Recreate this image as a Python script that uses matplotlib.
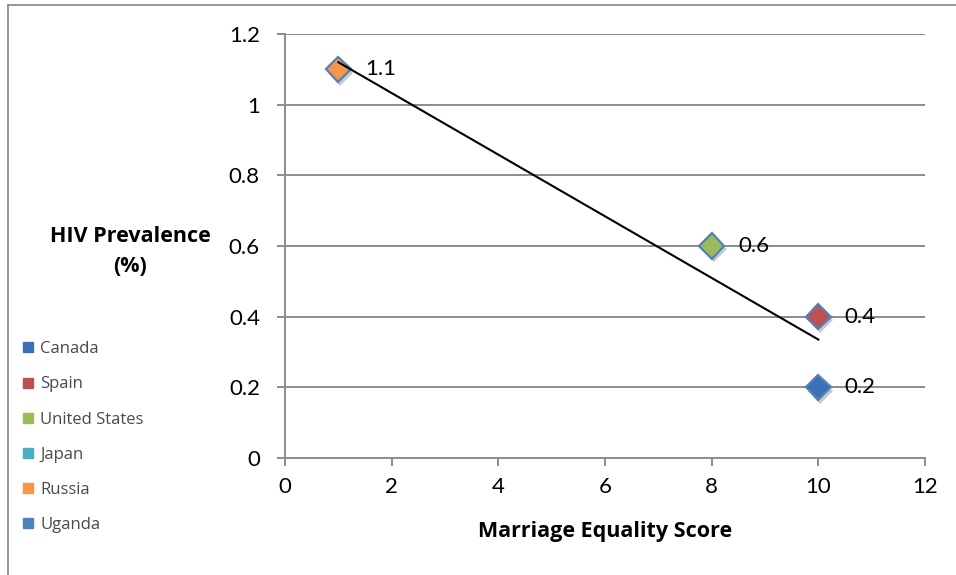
"""
HIV prevalence vs marriage equality score scatter with linear trendline.
"""
import numpy as np
import matplotlib
matplotlib.use("Agg")
import matplotlib.pyplot as plt
from matplotlib.lines import Line2D
import matplotlib.patheffects as pe

# data
countries = ["Canada", "Spain", "United States", "Japan", "Russia", "Uganda"]
scores = [10, 10, 8, np.nan, 1, np.nan]
prevalence = [0.2, 0.4, 0.6, np.nan, 1.1, np.nan]
colors = ["#3C6FB6", "#C0504D", "#9BBB59", "#4BACC6", "#F79646", "#4F81BD"]
x_ticks = [0, 2, 4, 6, 8, 10, 12]
y_ticks = [0, 0.2, 0.4, 0.6, 0.8, 1.0, 1.2]

plt.rcParams["font.family"] = ["Lato", "DejaVu Sans"]

fig = plt.figure(figsize=(9.56, 5.75), dpi=100)
ax = fig.add_axes([0.2981, 0.2035, 0.6695, 0.7374])

grid_col = "#8C8C8C"
ax.set_xlim(0, 12)
ax.set_ylim(0, 1.2)
ax.set_xticks(x_ticks)
ax.set_yticks(y_ticks)
ax.set_xticklabels([f"{v:g}" for v in x_ticks])
ax.set_yticklabels([f"{v:g}" for v in y_ticks])
ax.yaxis.grid(True, color=grid_col, linewidth=1.4)
ax.set_axisbelow(True)
for s in ["top", "right"]:
    ax.spines[s].set_visible(False)
for s in ["left", "bottom"]:
    ax.spines[s].set_color(grid_col)
    ax.spines[s].set_linewidth(1.4)
ax.tick_params(axis="both", direction="out", length=6, width=1.4,
               color=grid_col, labelsize=16, labelcolor="black")
ax.tick_params(axis="y", pad=12)
ax.tick_params(axis="x", pad=8)

# trendline
xs = np.array(scores, dtype=float)
ys = np.array(prevalence, dtype=float)
ok = ~np.isnan(xs)
slope, icpt = np.polyfit(xs[ok], ys[ok], 1)
tx = np.array([xs[ok].min(), xs[ok].max()])
ax.plot(tx, slope * tx + icpt, color="black", linewidth=1.5, zorder=4)

shadow = [pe.SimplePatchShadow(offset=(1.5, -2.5), alpha=0.35, shadow_rgbFace="#666666"),
          pe.Normal()]
for c, x, y, col in zip(countries, scores, prevalence, colors):
    if np.isnan(x):
        continue
    ax.plot([x], [y], marker="D", markersize=13, markerfacecolor=col,
            markeredgecolor="#4F81BD", markeredgewidth=1.6, linestyle="none",
            zorder=3, path_effects=shadow)
    ax.annotate(f"{y:g}", (x, y), xytext=(19, 0), textcoords="offset points",
                va="center", ha="left", fontsize=16)

label_font = ["Open Sans", "DejaVu Sans"]
fig.text(0.136, 0.563, "HIV Prevalence\n(%)", ha="center", va="center",
         fontsize=15.5, fontweight="bold", linespacing=1.55, family=label_font)
fig.text(0.633, 0.075, "Marriage Equality Score", ha="center", va="center",
         fontsize=15.5, fontweight="bold", family=label_font)

handles = [Line2D([], [], marker="s", markersize=6.5, linestyle="none",
                  markerfacecolor=col, markeredgecolor=col) for col in colors]
fig.legend(handles, countries, loc="upper left", bbox_to_anchor=(0.017, 0.418),
           frameon=False, labelcolor="#4A4A4A", handlelength=0.6,
           handletextpad=0.45, labelspacing=1.15, borderaxespad=0,
           prop={"family": ["Open Sans", "DejaVu Sans"], "size": 12})

# chart border
fig.add_artist(Line2D([0.0084, 0.0084], [0.0, 0.991], color=grid_col, linewidth=1.3))
fig.add_artist(Line2D([0.0084, 1.0], [0.991, 0.991], color=grid_col, linewidth=1.3))

fig.savefig("out.png", dpi=100)
